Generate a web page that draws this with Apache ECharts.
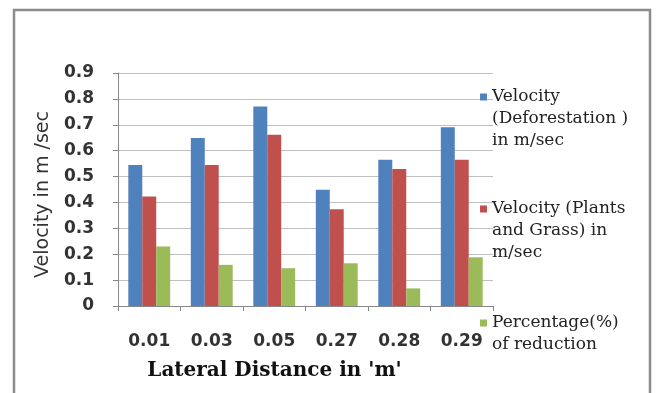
<!DOCTYPE html>
<html>
<head>
<meta charset="utf-8">
<script src="https://cdn.jsdelivr.net/npm/echarts@6/dist/echarts.min.js"></script>
<style>html,body{margin:0;padding:0;background:#fff;}#c{width:660px;height:393px;}</style>
</head>
<body>
<div id="c"></div>
<script>
const categories = ['0.01', '0.03', '0.05', '0.27', '0.28', '0.29'];
const deforestation = [0.545, 0.649, 0.771, 0.449, 0.565, 0.690];
const plantsGrass = [0.423, 0.545, 0.661, 0.374, 0.529, 0.565];
const reduction = [0.23, 0.159, 0.146, 0.165, 0.068, 0.188];
const seriesNames = ['Velocity (Deforestation ) in m/sec', 'Velocity (Plants and Grass) in m/sec', 'Percentage(%) of reduction'];
const legendLines = [
  'Velocity\n(Deforestation )\nin m/sec',
  'Velocity (Plants\nand Grass) in\nm/sec',
  'Percentage(%)\nof reduction'
];
const colors = ['#4f81bd', '#c0504d', '#9bbb59'];

const LH = 22;
const chart = echarts.init(document.getElementById('c'));
function mkLegend(i, firstLineY, lines) {
  // square sits at the top of a taller icon box so that it lines up with the first text line
  const h = LH * (lines - 1) + 7;
  const icon = 'path://M0,0L7,0L7,7L0,7Z M0,' + (h - 0.01) + 'L0.01,' + h + 'L0,' + h + 'Z';
  const over = (LH * lines - h) / 2;
  return {
    data: [{ name: seriesNames[i], icon: icon }],
    left: 475,
    top: firstLineY - 3.5 - 5 - over,
    padding: 5,
    orient: 'vertical',
    itemWidth: 7,
    itemHeight: h,
    itemSymbolKeepAspect: false,
    selectedMode: false,
    formatter: function () { return legendLines[i]; },
    textStyle: {
      fontFamily: 'DejaVu Serif',
      fontSize: 17,
      color: '#222',
      lineHeight: LH
    }
  };
}
chart.setOption({
  animation: false,
  backgroundColor: '#fff',
  color: colors,
  grid: { left: 118, right: 167, top: 73, bottom: 87, containLabel: false },
  legend: [mkLegend(0, 97, 3), mkLegend(1, 209, 3), mkLegend(2, 323, 2)],
  xAxis: {
    type: 'category',
    data: categories,
    axisLine: { lineStyle: { color: '#888', width: 1 } },
    axisTick: { show: true, length: 5, lineStyle: { color: '#888' } },
    axisLabel: { margin: 27, fontFamily: 'DejaVu Sans', fontWeight: 'bold', fontSize: 17, color: '#333' },
    name: "Lateral Distance in 'm'",
    nameLocation: 'middle',
    nameGap: 55,
    nameTextStyle: { fontFamily: 'DejaVu Serif', fontWeight: 'bold', fontSize: 20, color: '#111', padding: [0, 62, 0, 0] }
  },
  yAxis: {
    type: 'value',
    min: 0,
    max: 0.9,
    interval: 0.1,
    axisLine: { show: true, lineStyle: { color: '#888', width: 1 } },
    axisTick: { show: true, length: 5, lineStyle: { color: '#888' } },
    splitLine: { lineStyle: { color: '#c0c0c0', width: 1 } },
    axisLabel: {
      margin: 24, fontFamily: 'DejaVu Sans', fontWeight: 'bold', fontSize: 17, color: '#333',
      formatter: function (v) { return v === 0 ? '0' : v.toFixed(1); }
    },
    name: 'Velocity in m /sec',
    nameLocation: 'middle',
    nameGap: 64,
    nameRotate: 90,
    nameTextStyle: { fontFamily: 'DejaVu Sans', fontSize: 19, color: '#333', padding: [0, 10, 0, 0] }
  },
  series: [
    { name: seriesNames[0], type: 'bar', data: deforestation, barGap: '0%', barCategoryGap: '33%' },
    { name: seriesNames[1], type: 'bar', data: plantsGrass, barGap: '0%', barCategoryGap: '33%' },
    { name: seriesNames[2], type: 'bar', data: reduction, barGap: '0%', barCategoryGap: '33%' }
  ],
  graphic: [{
    type: 'rect', silent: true, z: 100,
    shape: { x: 14, y: 10, width: 636, height: 400 },
    style: { fill: 'none', stroke: '#8c8c8c', lineWidth: 2.5 }
  }]
});
</script>
</body>
</html>
